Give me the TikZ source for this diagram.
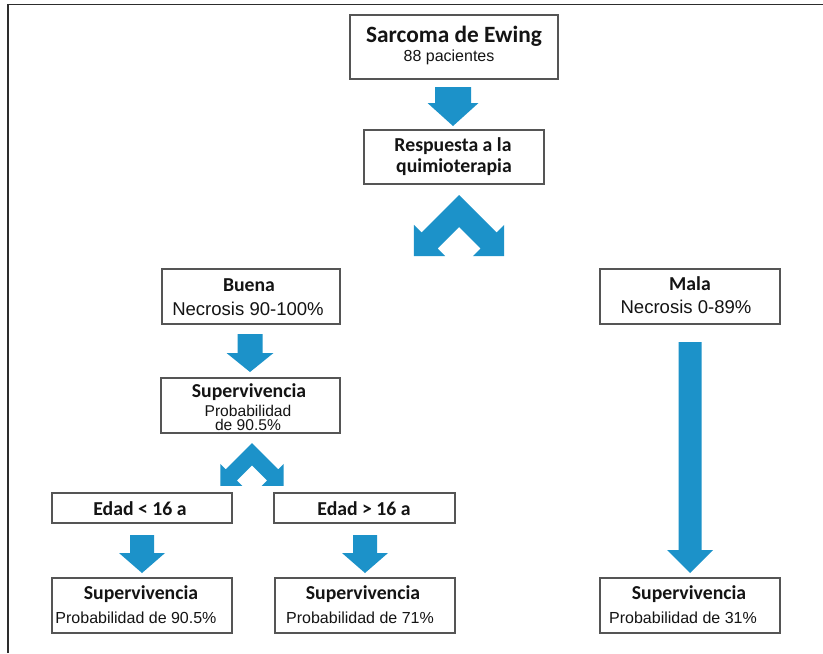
\documentclass[tikz,border=0pt]{standalone}
\usepackage{fontspec}
\setmainfont{Liberation Sans}
\newfontfamily\calfont{Carlito}
\definecolor{arrowblue}{RGB}{28,146,201}
\definecolor{boxline}{RGB}{85,85,85}
\definecolor{framecol}{RGB}{45,45,45}
\definecolor{txt}{RGB}{20,20,20}
\newcommand\blkarrow[6]{% cx, top, headtop, tip, shaft half width, head half width
  \fill[arrowblue] (#1-#5,#2) -- (#1+#5,#2) -- (#1+#5,#3) -- (#1+#6,#3) -- (#1,#4)
    -- (#1-#6,#3) -- (#1-#5,#3) -- cycle;}
\newcommand\chevshape[3]{% cx, apex y, scale
  \begin{scope}[shift={(#1,#2)},scale=#3]
    \fill[arrowblue] (0,0) -- (37.5,37.5) -- (45.1,29.9) -- (45.1,61.1) -- (13.9,61.1)
      -- (21.5,53.5) -- (0,32) -- (-21.5,53.5) -- (-13.9,61.1) -- (-45.1,61.1)
      -- (-45.1,29.9) -- (-37.5,37.5) -- cycle;
  \end{scope}}
\begin{document}
\begin{tikzpicture}[x=0.75pt,y=-0.75pt,
  box/.style={draw=boxline,line width=1.1pt,inner sep=0pt,fill=white},
  wbox/.style={box,minimum width=135pt,minimum height=41.25pt},
  title/.style={font=\calfont\bfseries\fontsize{17.5}{19}\selectfont,anchor=base,inner sep=0pt,text=txt},
  head/.style={font=\calfont\bfseries\fontsize{14.8}{16}\selectfont,anchor=base,inner sep=0pt,text=txt},
  body/.style={font=\fontsize{12}{13}\selectfont,anchor=base,inner sep=0pt,text=txt},
  tightbody/.style={font=\fontsize{11.7}{13}\selectfont,align=center,anchor=base,inner sep=0pt,text=txt},
  bigbody/.style={font=\fontsize{13.9}{15}\selectfont,anchor=base,inner sep=0pt,text=txt}]
\useasboundingbox (0,0) rectangle (823,653);
\fill[white] (0,0) rectangle (823,653);
% frame
\draw[framecol,line width=1.3pt] (8,653) -- (8,4.5) -- (823,4.5);

% boxes
\node[box,minimum width=156pt,minimum height=48pt] (sarc) at (454,47) {};
\node[box,minimum width=135pt,minimum height=40.5pt] (resp) at (454,157) {};
\node[box,minimum width=133.5pt,minimum height=41.25pt] (buena) at (251,296.5) {};
\node[wbox] (mala) at (690,296.5) {};
\node[box,minimum width=134.25pt,minimum height=41.25pt] (sup1) at (250.5,405.5) {};
\node[box,minimum width=135pt,minimum height=22.5pt] (edad1) at (142,508) {};
\node[box,minimum width=135.75pt,minimum height=22.5pt] (edad2) at (364.5,508) {};
\node[wbox] (sup2) at (142,605.5) {};
\node[wbox] (sup3) at (365,605.5) {};
\node[wbox] (sup4) at (690,605.5) {};

% texts
\node[title] (t1) at (454,42) {Sarcoma de Ewing};
\node[body] (t2) at (449,61) {88 pacientes};
\node[head] (t3) at (453,151) {Respuesta a la};
\node[head] (t4) at (454,172) {quimioterapia};
\node[head] (t5) at (249,291) {Buena};
\node[bigbody] (t6) at (248,315) {Necrosis 90-100\%};
\node[head] (t7) at (690,290) {Mala};
\node[bigbody] (t8) at (686,313) {Necrosis 0-89\%};
\node[head] (t9) at (249,397) {Supervivencia};
\node[tightbody] (t10) at (248,430.5) {Probabilidad\\[-2.5pt]de 90.5\%};
\node[head] (t12) at (140,515) {Edad < 16 a};
\node[head] (t13) at (364,515) {Edad > 16 a};
\node[head] (t14) at (141,599) {Supervivencia};
\node[body] (t15) at (136,623) {Probabilidad de 90.5\%};
\node[head] (t16) at (363,599) {Supervivencia};
\node[body] (t17) at (360,623) {Probabilidad de 71\%};
\node[head] (t18) at (689,599) {Supervivencia};
\node[body] (t19) at (683,623) {Probabilidad de 31\%};

% block arrows
\blkarrow{453}{87}{103}{126}{18}{25.5}
\chevshape{459}{195}{1}
\blkarrow{250}{334}{353}{372}{12.5}{23.5}
\chevshape{252}{443}{0.7}
\blkarrow{142}{535}{553}{573}{12}{23}
\blkarrow{365}{535}{553}{573}{12}{23}
\blkarrow{690}{342}{550}{573}{11.5}{23}
\end{tikzpicture}
\end{document}
